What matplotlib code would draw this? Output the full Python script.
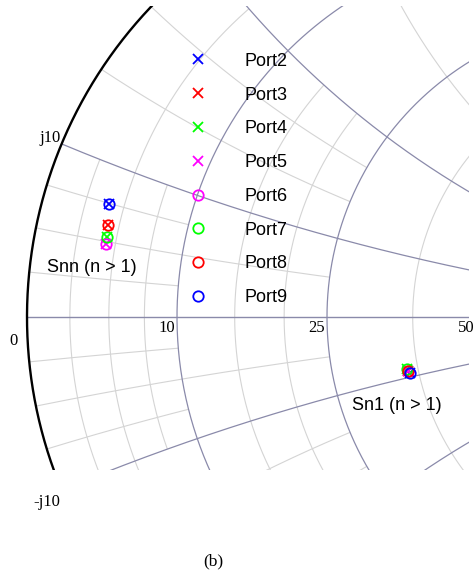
import numpy as np
import matplotlib.pyplot as plt
from matplotlib.patches import Rectangle

# reference impedance and labelled grid values (ohms)
z0 = 50.0
r_labels = [10, 25, 50]
x_label = 10

# reflection coefficients, one entry per port
ports = ['Port2', 'Port3', 'Port4', 'Port5', 'Port6', 'Port7', 'Port8', 'Port9']
colors = ['blue', 'red', 'lime', 'magenta', 'magenta', 'lime', 'red', 'blue']
markers = ['x', 'x', 'x', 'x', 'o', 'o', 'o', 'o']
snn_re = [-0.817, -0.819, -0.823, -0.825, -0.825, -0.823, -0.819, -0.817]
snn_im = [0.251, 0.204, 0.177, 0.162, 0.162, 0.177, 0.204, 0.251]
sn1_re = [-0.148, -0.153, -0.156, -0.154, -0.154, -0.156, -0.153, -0.148]
sn1_im = [-0.125, -0.121, -0.115, -0.119, -0.119, -0.115, -0.121, -0.125]

major_c = '#8a8aaa'
minor_c = '#d4d4d4'


def gamma(z):
    return (z - 1) / (z + 1)


def span(a, b, n=800):
    # tan spacing so that infinite ranges work too
    return np.tan(np.linspace(np.arctan(a), np.arctan(b), n))


def r_circle(r, x0, x1):
    return gamma(r + 1j * span(x0, x1))


def x_arc(x, r0, r1):
    return gamma(span(r0, r1) + 1j * x)


fig = plt.figure(figsize=(4.76, 5.73), dpi=100)
ax = fig.add_axes([0, 0, 1, 1])
ax.set_xlim(-1.06, -0.0022)
ax.set_ylim(-0.5689, 0.7044)
ax.axis('off')

clip = Rectangle((-1.02, -0.34), 1.0033, 1.031, transform=ax.transData,
                 fill=False, visible=False)
ax.add_patch(clip)


def draw(g, color, lw, z=1):
    ln, = ax.plot(g.real, g.imag, color=color, lw=lw, zorder=z,
                  solid_capstyle='butt')
    ln.set_clip_path(clip)


inf = 1e6
# minor grid
for r in [0.05, 0.15]:
    draw(r_circle(r, -0.2, 0.2), minor_c, 0.8)
for r in [0.1, 0.3, 0.4]:
    draw(r_circle(r, -0.5, 0.5), minor_c, 0.8)
draw(r_circle(0.75, -1, 1), minor_c, 0.8)
for x in [0.05, 0.15]:
    draw(x_arc(x, 0, 0.2), minor_c, 0.8)
    draw(x_arc(-x, 0, 0.2), minor_c, 0.8)
for x in [0.1, 0.3, 0.4]:
    draw(x_arc(x, 0, 0.5), minor_c, 0.8)
    draw(x_arc(-x, 0, 0.5), minor_c, 0.8)
for x in [0.75, -0.75]:
    draw(x_arc(x, 0, 1), minor_c, 0.8)

# major grid
for r in [0.2, 0.5, 1.0]:
    draw(r_circle(r, -inf, inf), major_c, 0.9, 2)
for x in [0.2, 0.5, 1.0]:
    draw(x_arc(x, 0, inf), major_c, 0.9, 2)
    draw(x_arc(-x, 0, inf), major_c, 0.9, 2)
draw(x_arc(0, 0, inf), major_c, 1.0, 2)

# outer circle
draw(r_circle(0, -inf, inf), 'black', 1.7, 3)

serif = ['Liberation Serif', 'DejaVu Serif']
sans = ['Liberation Sans', 'DejaVu Sans']

for R in r_labels:
    ax.annotate(str(R), (gamma(R / z0), 0), xytext=(-2, -3),
                textcoords='offset pixels', ha='right', va='top',
                family=serif, fontsize=12, annotation_clip=False)
ax.annotate('0', (-1, 0), xytext=(-9, -16), textcoords='offset pixels',
            ha='right', va='top', family=serif, fontsize=12)
gx = gamma(1j * x_label / z0)
ax.annotate('j%d' % x_label, (gx.real, gx.imag), xytext=(-1, 2),
            textcoords='offset pixels', ha='right', va='baseline',
            family=serif, fontsize=12)
gx = gamma(-1j * x_label / z0)
ax.annotate('-j%d' % x_label, (gx.real, gx.imag), xytext=(-1, -4),
            textcoords='offset pixels', ha='right', va='top',
            family=serif, fontsize=12)

for i, p in enumerate(ports):
    ax.plot([snn_re[i], sn1_re[i]], [snn_im[i], sn1_im[i]], ls='none',
            marker=markers[i], color=colors[i], mfc='none',
            ms=7.5 if markers[i] == 'o' else 6.5, mew=1.3, label=p, zorder=5)

ax.text(-0.9556, 0.111, 'Snn (n > 1)', family=sans, fontsize=13,
        ha='left', va='center')
ax.text(-0.2778, -0.1956, 'Sn1 (n > 1)', family=sans, fontsize=13,
        ha='left', va='center')

leg = ax.legend(loc='upper left', bbox_to_anchor=(0.378, 0.908),
                frameon=False, numpoints=1, borderpad=0, borderaxespad=0,
                handlelength=2.0, handletextpad=1.6, labelspacing=0.93,
                prop={'family': sans, 'size': 13})

fig.text(213 / 476, 1 - 561 / 573, '(b)', family=serif, fontsize=12.5,
         ha='center', va='center')

fig.savefig('out.png', dpi=100)
